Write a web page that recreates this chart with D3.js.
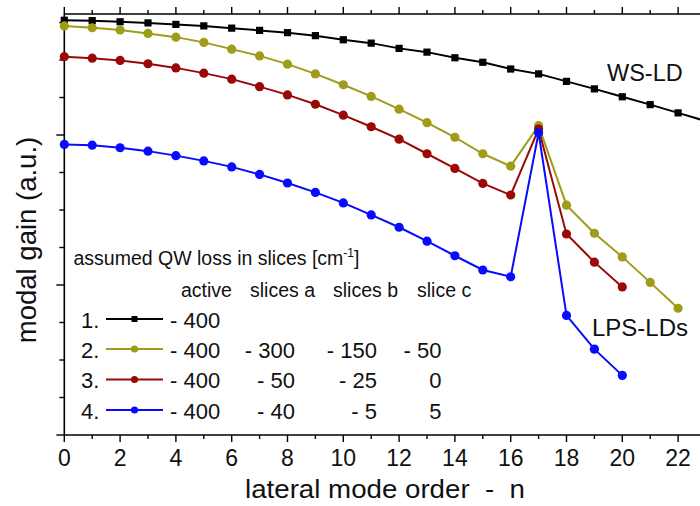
<!DOCTYPE html>
<html>
<head>
<meta charset="utf-8">
<script src="https://cdn.jsdelivr.net/npm/d3@7"></script>
<style>
  html, body { margin: 0; padding: 0; background: #fff; }
  svg { display: block; font-family: "Liberation Sans", Arial, sans-serif; }
</style>
</head>
<body>
<svg id="chart" width="700" height="506"></svg>
<script>
// lateral mode order n for each curve
const modeWS   = [0,1,2,3,4,5,6,7,8,9,10,11,12,13,14,15,16,17,18,19,20,21,22,23];
const modeLPS2 = [0,1,2,3,4,5,6,7,8,9,10,11,12,13,14,15,16,17,18,19,20,21,22];
const modeLPS3 = [0,1,2,3,4,5,6,7,8,9,10,11,12,13,14,15,16,17,18,19,20];
const modeLPS4 = [0,1,2,3,4,5,6,7,8,9,10,11,12,13,14,15,16,17,18,19,20];

// modal gain (arbitrary units)
const gainWS   = [11.06,11.05,11.02,10.99,10.95,10.91,10.85,10.79,10.73,10.65,10.54,10.45,
                  10.31,10.21,10.06,9.94,9.76,9.63,9.43,9.23,9.02,8.81,8.59,8.37];
const gainLPS2 = [10.91,10.86,10.80,10.71,10.61,10.47,10.29,10.11,9.89,9.63,9.34,9.03,
                  8.69,8.33,7.94,7.50,7.17,8.25,6.13,5.38,4.75,4.07,3.38];
const gainLPS3 = [10.09,10.05,9.99,9.90,9.79,9.65,9.49,9.29,9.07,8.82,8.53,8.22,
                  7.89,7.50,7.11,6.71,6.40,8.16,5.36,4.61,3.95];
const gainLPS4 = [7.75,7.73,7.66,7.57,7.45,7.31,7.15,6.95,6.72,6.47,6.19,5.87,
                  5.54,5.17,4.78,4.40,4.22,8.06,3.19,2.29,1.59];

// axis ticks
const xTicks = [0,1,2,3,4,5,6,7,8,9,10,11,12,13,14,15,16,17,18,19,20,21,22,23];
const xTickLabels = ["0","2","4","6","8","10","12","14","16","18","20","22"];
const yTicks = [0,1,2,3,4,5,6,7,8,9,10,11];
const yMajor = [0,4,8];

// legend table: assumed QW loss in slices [cm^-1]
const rowLabels  = ["1.", "2.", "3.", "4."];
const lossActive = ["- 400", "- 400", "- 400", "- 400"];
const lossA      = ["", "- 300", "- 50", "- 40"];
const lossB      = ["", "- 150", "- 25", "- 5"];
const lossC      = ["", "- 50", "0", "5"];
const colHeads   = ["active", "slices a", "slices b", "slice c"];

const seriesColors = ["#000000", "#9e9c18", "#9a0808", "#0a0aff"];
const seriesShapes = ["square", "circle", "circle", "circle"];

const series = [
  { n: modeWS,   g: gainWS },
  { n: modeLPS2, g: gainLPS2 },
  { n: modeLPS3, g: gainLPS3 },
  { n: modeLPS4, g: gainLPS4 }
];

const svg = d3.select("#chart");
const plotLeft = 64.3, plotRight = 706, plotTop = 14, plotBottom = 435;

const x = d3.scaleLinear().domain([0, 23]).range([plotLeft, plotRight]);
const y = d3.scaleLinear().domain([0, 11.227]).range([plotBottom, plotTop]);

const defs = svg.append("defs");
defs.append("clipPath").attr("id", "plotClip")
  .append("rect").attr("x", plotLeft - 6).attr("y", plotTop - 6)
  .attr("width", 700 - plotLeft + 6).attr("height", plotBottom - plotTop + 12);

// frame lines
const axisG = svg.append("g").attr("stroke", "#000").attr("stroke-width", 1.6);
axisG.append("line").attr("x1", plotLeft).attr("x2", 700).attr("y1", plotBottom).attr("y2", plotBottom);
axisG.append("line").attr("x1", plotLeft).attr("x2", 700).attr("y1", plotTop).attr("y2", plotTop);
axisG.append("line").attr("x1", plotLeft).attr("x2", plotLeft).attr("y1", plotTop).attr("y2", plotBottom);

// bottom and top ticks (outward)
xTicks.forEach(t => {
  const major = t % 2 === 0;
  const len = major ? 7 : 4;
  axisG.append("line").attr("x1", x(t)).attr("x2", x(t))
    .attr("y1", plotBottom).attr("y2", plotBottom + len).attr("stroke-width", 1.4);
  axisG.append("line").attr("x1", x(t)).attr("x2", x(t))
    .attr("y1", plotTop).attr("y2", plotTop - len).attr("stroke-width", 1.4);
});

// left ticks (outward)
yTicks.forEach(t => {
  const len = yMajor.includes(t) ? 8 : 5;
  axisG.append("line").attr("x1", plotLeft).attr("x2", plotLeft - len)
    .attr("y1", y(t)).attr("y2", y(t)).attr("stroke-width", 1.4);
});

// x tick labels
svg.append("g").selectAll("text").data(xTickLabels).join("text")
  .attr("x", d => x(+d)).attr("y", 466)
  .attr("text-anchor", "middle").attr("font-size", 23).attr("fill", "#111")
  .text(d => d);

// axis titles
svg.append("text").attr("x", 245).attr("y", 498)
  .attr("font-size", 25).attr("fill", "#111")
  .attr("xml:space", "preserve")
  .attr("textLength", 280).attr("lengthAdjust", "spacingAndGlyphs")
  .text("lateral mode order  -  n");

svg.append("text").attr("transform", "translate(36,240) rotate(-90)")
  .attr("text-anchor", "middle").attr("font-size", 27.5).attr("fill", "#111")
  .text("modal gain (a.u.)");

// curves
const plot = svg.append("g").attr("clip-path", "url(#plotClip)");
series.forEach((s, i) => {
  const pts = s.n.map((n, k) => [n, s.g[k]]);
  const line = d3.line().x(d => x(d[0])).y(d => y(d[1]));
  plot.append("path").datum(pts)
    .attr("d", line).attr("fill", "none")
    .attr("stroke", seriesColors[i]).attr("stroke-width", 2);
  if (seriesShapes[i] === "square") {
    plot.append("g").selectAll("rect").data(pts).join("rect")
      .attr("x", d => x(d[0]) - 3.6).attr("y", d => y(d[1]) - 3.6)
      .attr("width", 7.2).attr("height", 7.2).attr("fill", seriesColors[i]);
  } else {
    plot.append("g").selectAll("circle").data(pts).join("circle")
      .attr("cx", d => x(d[0])).attr("cy", d => y(d[1])).attr("r", 4.6)
      .attr("fill", seriesColors[i]);
  }
});

// curve annotations
svg.append("text").attr("x", 607).attr("y", 81).attr("font-size", 23.5)
  .attr("fill", "#111").text("WS-LD");
svg.append("text").attr("x", 592).attr("y", 336).attr("font-size", 24)
  .attr("fill", "#111").text("LPS-LDs");

// legend table
const leg = svg.append("g").attr("fill", "#111");
const title = leg.append("text").attr("x", 73.5).attr("y", 265).attr("font-size", 19.5);
title.append("tspan").text("assumed QW loss in slices [cm");
title.append("tspan").attr("font-size", 12).attr("dy", -8).text("-1");
title.append("tspan").attr("dy", 8).text("]");

const headX = [181, 250, 333, 417];
colHeads.forEach((h, j) => {
  leg.append("text").attr("x", headX[j]).attr("y", 297).attr("font-size", 19.5).text(h);
});

const rowBase = [327.5, 357.5, 388, 418.5];
rowLabels.forEach((r, i) => {
  const by = rowBase[i];
  const cy = by - 8.5;
  leg.append("text").attr("x", 81).attr("y", by).attr("font-size", 22).text(r);
  leg.append("line").attr("x1", 106).attr("x2", 163).attr("y1", cy).attr("y2", cy)
    .attr("stroke", seriesColors[i]).attr("stroke-width", 2);
  if (seriesShapes[i] === "square") {
    leg.append("rect").attr("x", 134.5 - 3).attr("y", cy - 3).attr("width", 6).attr("height", 6)
      .attr("fill", seriesColors[i]);
  } else {
    leg.append("circle").attr("cx", 134.5).attr("cy", cy).attr("r", 3.6).attr("fill", seriesColors[i]);
  }
  leg.append("text").attr("x", 170).attr("y", by).attr("font-size", 22).text(lossActive[i]);
  leg.append("text").attr("x", 295).attr("y", by).attr("font-size", 22)
    .attr("text-anchor", "end").text(lossA[i]);
  leg.append("text").attr("x", 377).attr("y", by).attr("font-size", 22)
    .attr("text-anchor", "end").text(lossB[i]);
  leg.append("text").attr("x", 441.5).attr("y", by).attr("font-size", 22)
    .attr("text-anchor", "end").text(lossC[i]);
});
</script>
</body>
</html>
